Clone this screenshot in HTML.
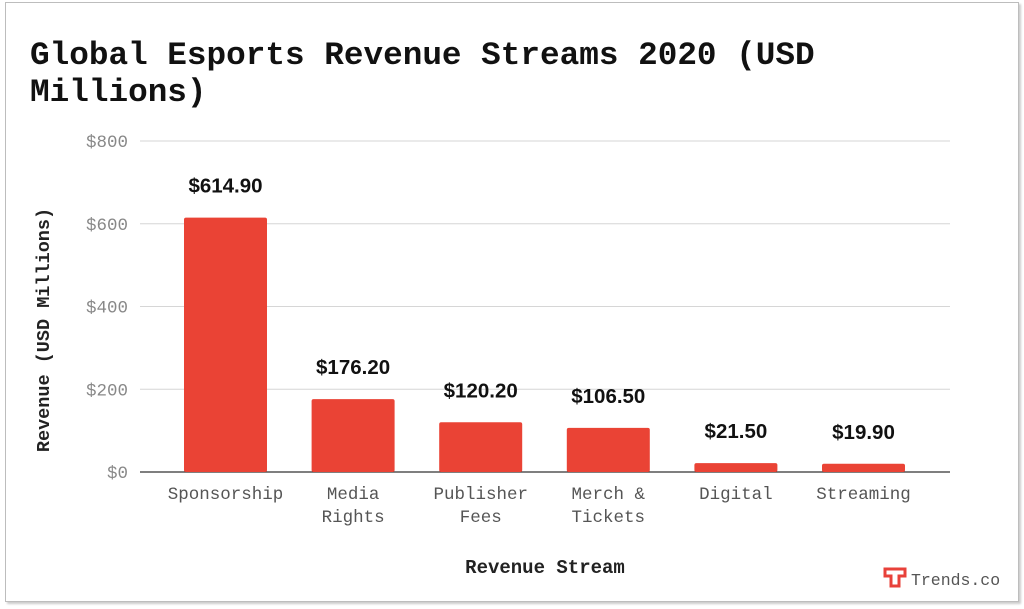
<!DOCTYPE html>
<html><head><meta charset="utf-8"><style>
body{margin:0;width:1024px;height:609px;background:#fff;overflow:hidden;font-family:"Liberation Sans",sans-serif}
#frame{position:absolute;left:5px;top:2px;width:1012px;height:598px;border:1px solid #bdbdbd;box-shadow:2px 2px 2px #ccc;background:#fff}
</style></head><body>
<div id="frame"></div>
<svg id="c" width="1024" height="609" style="position:absolute;left:0;top:0">
<text x="30" y="64" font-family="Liberation Mono" font-weight="bold" font-size="32.7" fill="#111">Global Esports Revenue Streams 2020 (USD</text>
<text x="30" y="101" font-family="Liberation Mono" font-weight="bold" font-size="32.7" fill="#111">Millions)</text>
<text transform="translate(49,330) rotate(-90)" text-anchor="middle" font-family="Liberation Mono" font-weight="bold" font-size="18.5" fill="#222">Revenue (USD Millions)</text>
<text x="545" y="573" text-anchor="middle" font-family="Liberation Mono" font-weight="bold" font-size="19" fill="#222">Revenue Stream</text>
<g>
<path d="M885 569 h20 v7 h-6 v10 h-8 v-10 h-6 z" fill="none" stroke="#e8413a" stroke-width="3"/>
<text x="911" y="585" font-family="Liberation Mono" font-size="16.5" fill="#555">Trends.co</text>
</g>
<g id="plot"></g>
</svg>
<script>
const categories=[["Sponsorship"],["Media","Rights"],["Publisher","Fees"],["Merch &","Tickets"],["Digital"],["Streaming"]];
const values=[614.9,176.2,120.2,106.5,21.5,19.9];
const valueLabels=["$614.90","$176.20","$120.20","$106.50","$21.50","$19.90"];
const ticks=[0,200,400,600,800];
const tickLabels=["$0","$200","$400","$600","$800"];
const NS="http://www.w3.org/2000/svg",g=document.getElementById("plot");
const x0=140,x1=950,y0=472,y1=141,maxV=800;
const y=v=>y0-(v/maxV)*(y0-y1);
const step=127.6,first=225.5,bw=83;
const xc=i=>first+i*step;
function el(t,a,txt){const e=document.createElementNS(NS,t);for(const k in a)e.setAttribute(k,a[k]);if(txt!=null)e.textContent=txt;g.appendChild(e);return e;}
ticks.forEach((t,i)=>{
 const l=el("line",{x1:x0,x2:x1,y1:y(t),y2:y(t),stroke:i==0?"#333":"#d6d6d6","stroke-width":i==0?1.3:1});
 
 
 const tx=el("text",{x:128,y:y(t)+6,"text-anchor":"end","font-family":"Liberation Mono","font-size":17.5,fill:"#888"},tickLabels[i]);
 
 
});
values.forEach((v,i)=>{
 const r=el("rect",{x:xc(i)-bw/2,y:y(v),width:bw,height:y0-y(v),fill:"#ea4335",rx:2});
 
 
 const t=el("text",{x:xc(i),y:y(v)-25,"text-anchor":"middle","font-weight":"bold","font-size":20.5,fill:"#111"},valueLabels[i]);
 
 
 categories[i].forEach((s,j)=>{
  const c=el("text",{x:xc(i),y:499+j*23,"text-anchor":"middle","font-family":"Liberation Mono","font-size":17.5,fill:"#555"},s);
  
  
 });
});
</script>
</body></html>
